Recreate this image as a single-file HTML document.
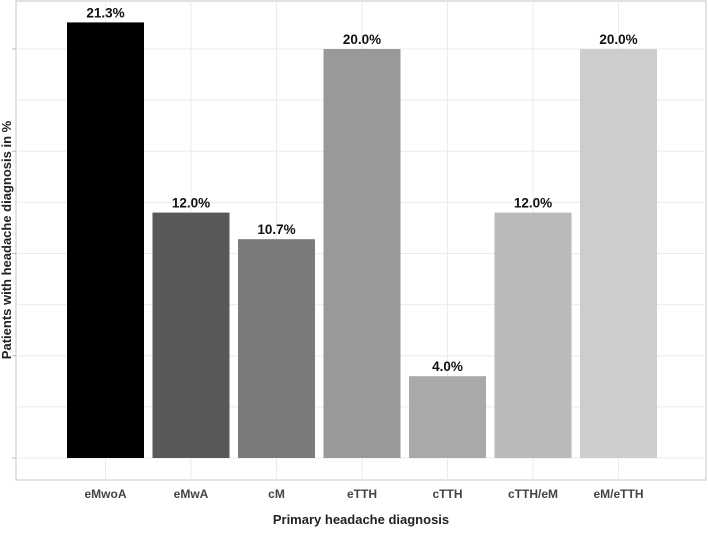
<!DOCTYPE html>
<html><head><meta charset="utf-8"><style>
body{margin:0;background:#fff;}
svg text{font-family:"Liberation Sans",Arial,sans-serif;font-weight:bold;}
</style></head><body>
<svg id="chart" width="708" height="530" viewBox="0 0 708 530">
<rect x="16" y="1" width="690" height="479" fill="#fff" stroke="#cfcfcf" stroke-width="1.2"/>
<g id="grid"></g>
<g id="bars"></g>
<g id="labels"></g>
<text x="361" y="524" text-anchor="middle" font-size="13" fill="#222">Primary headache diagnosis</text>
<text transform="translate(11,240) rotate(-90)" text-anchor="middle" font-size="13" fill="#222">Patients with headache diagnosis in %</text>
</svg>
<script>
const categories=["eMwoA","eMwA","cM","eTTH","cTTH","cTTH/eM","eM/eTTH"];
const values=[21.3,12.0,10.7,20.0,4.0,12.0,20.0];
const valueLabels=["21.3%","12.0%","10.7%","20.0%","4.0%","12.0%","20.0%"];
const colors=["#000000","#595959","#7a7a7a","#999999","#a9a9a9","#bababa","#cdcdcd"];
const yTicks=[0,2.5,5,7.5,10,12.5,15,17.5,20];
const NS="http://www.w3.org/2000/svg";
const y=v=>458-v*20.45;
const x=i=>105.5+i*85.5;
const bw=77;
const grid=document.getElementById('grid'),bars=document.getElementById('bars'),labels=document.getElementById('labels');
function mk(t,a,p){const e=document.createElementNS(NS,t);for(const k in a)e.setAttribute(k,a[k]);p.appendChild(e);return e;}
yTicks.forEach(t=>{
  const l=mk('line',{x1:16,x2:706,y1:y(t),y2:y(t),stroke:'#ebebeb','stroke-width':1},grid);
  
  
  if(t%5===0){const tk=mk('line',{x1:12,x2:16,y1:y(t),y2:y(t),stroke:'#bbb','stroke-width':1},grid);
  
  }
});
categories.forEach((c,i)=>{
  const g=mk('line',{x1:x(i),x2:x(i),y1:1,y2:480,stroke:'#ebebeb','stroke-width':1},grid);
  
  
  const r=mk('rect',{x:x(i)-bw/2,y:y(values[i]),width:bw,height:y(0)-y(values[i]),fill:colors[i]},bars);
  
  
  const v=mk('text',{x:x(i),y:y(values[i])-5,'text-anchor':'middle','font-size':13.5,fill:'#111'},labels);
  v.textContent=valueLabels[i];
  
  
  const xl=mk('text',{x:x(i),y:498,'text-anchor':'middle','font-size':12,fill:'#444'},labels);
  xl.textContent=c;
  
  
});
</script>
</body></html>
